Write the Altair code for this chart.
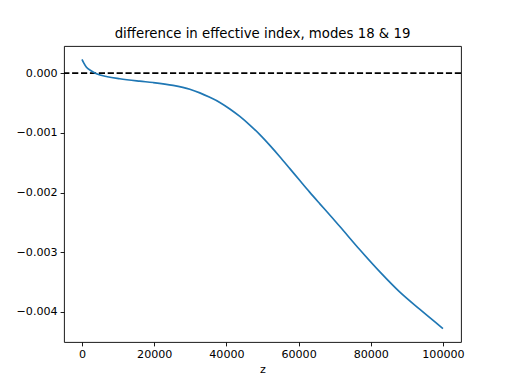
import altair as alt
import pandas as pd

z = [0, 500, 1220, 2500, 3990, 7000, 10450, 16000, 19680, 25230, 29860, 32630,
     35400, 38170, 40950, 43720, 46490, 49260, 52040, 54800, 57580, 60350,
     63000, 65900, 69140, 71440, 76980, 82530, 88070, 93620, 100000]
dn = [0.00023, 0.00017, 0.000101, 0.00004, -0.00001, -0.00006, -0.000094,
      -0.000134, -0.000157, -0.000205, -0.00027, -0.00033, -0.000405,
      -0.00049, -0.0006, -0.000725, -0.00087, -0.00103, -0.00121, -0.0014,
      -0.0016, -0.0018, -0.00199, -0.00219, -0.00241, -0.00257, -0.00296,
      -0.00333, -0.00367, -0.00396, -0.00428]

x_ticks = [0, 20000, 40000, 60000, 80000, 100000]
y_ticks = [0.0, -0.001, -0.002, -0.003, -0.004]

df = pd.DataFrame({"z": z, "dn": dn})
zero = pd.DataFrame({"y": [0.0]})

FONT = "DejaVu Sans"

xscale = alt.Scale(domain=[-5000, 105000], nice=False, zero=False)
yscale = alt.Scale(domain=[-0.0045055, 0.0004555], nice=False, zero=False)

line = alt.Chart(df).mark_line(color="#1f77b4", strokeWidth=1.67, clip=True,
                               interpolate="monotone").encode(
    x=alt.X("z:Q", scale=xscale,
            axis=alt.Axis(values=x_ticks, format="d", title="z", grid=False,
                          domain=False, tickColor="black", tickSize=3.9,
                          tickWidth=0.9, labelPadding=3, labelColor="black",
                          labelFont=FONT, labelFontSize=11.1, titleFont=FONT,
                          titleFontSize=11.1, titleFontWeight="normal",
                          titleColor="black", titlePadding=3)),
    y=alt.Y("dn:Q", scale=yscale,
            axis=alt.Axis(values=y_ticks, format=".3f", title=None, grid=False,
                          domain=False, tickColor="black", tickSize=3.9,
                          tickWidth=0.9, labelPadding=3, labelColor="black",
                          labelFont=FONT, labelFontSize=11.1)),
)

rule = alt.Chart(zero).mark_rule(color="black", strokeWidth=1.67,
                                 strokeDash=[6.2, 2.7]).encode(
    y=alt.Y("y:Q", scale=yscale)
)

chart = (rule + line).properties(
    width=397,
    height=296,
    title=alt.TitleParams("difference in effective index, modes 18 & 19",
                          font=FONT, fontSize=13.3, fontWeight="normal",
                          color="black", anchor="middle", offset=6),
    autosize=alt.AutoSizeParams(type="none"),
    padding={"left": 56, "top": 38, "right": 43, "bottom": 42},
    background="white",
).configure_view(stroke="black", strokeWidth=0.9, strokeOpacity=1)

chart.save("out.html", embed_options={"renderer": "svg", "actions": False})
